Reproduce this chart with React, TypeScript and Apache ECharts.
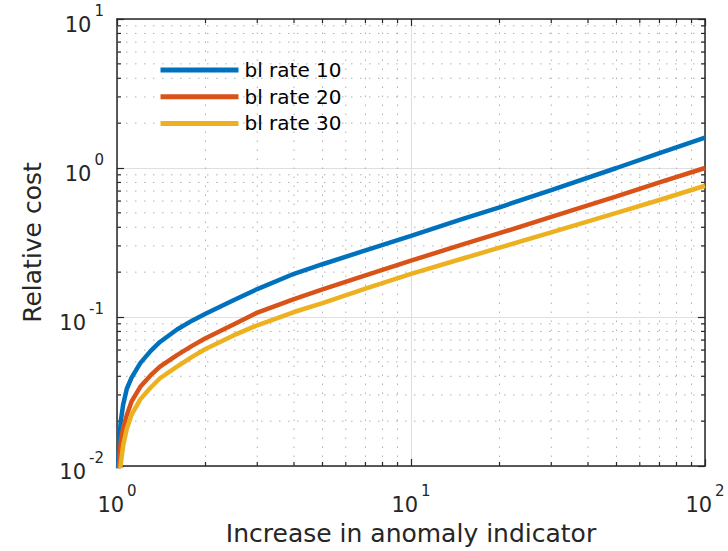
import React, { useEffect, useRef } from "react";
import * as echarts from "echarts";

// ---- data ----
const xValues = [1.005, 1.01, 1.02, 1.03, 1.05, 1.08, 1.12, 1.2, 1.3, 1.4, 1.6, 1.8, 2, 2.5, 3, 4, 5, 7, 10, 15, 20, 30, 50, 70, 100];
const blRate10 = [0.0075, 0.0105, 0.016, 0.02, 0.026, 0.033, 0.039, 0.049, 0.059, 0.068, 0.0825, 0.0945, 0.105, 0.13, 0.154, 0.195, 0.226, 0.28, 0.35, 0.455, 0.545, 0.71, 1.0, 1.26, 1.6];
const blRate20 = [0.005, 0.0078, 0.0115, 0.0145, 0.018, 0.022, 0.027, 0.034, 0.0405, 0.0465, 0.0555, 0.064, 0.072, 0.0895, 0.107, 0.132, 0.153, 0.19, 0.239, 0.307, 0.365, 0.47, 0.645, 0.8, 1.0];
const blRate30 = [0.004, 0.0063, 0.0085, 0.0104, 0.0138, 0.0178, 0.022, 0.028, 0.0335, 0.0388, 0.0465, 0.054, 0.061, 0.0755, 0.088, 0.108, 0.124, 0.155, 0.195, 0.247, 0.292, 0.37, 0.5, 0.61, 0.76];
const seriesNames = ["bl rate 10", "bl rate 20", "bl rate 30"];
const seriesColors = ["#0072BD", "#D95319", "#EDB120"];
const xMinorTicks = [2, 3, 4, 5, 6, 7, 8, 9, 20, 30, 40, 50, 60, 70, 80, 90];
const yMinorTicks = [0.02, 0.03, 0.04, 0.05, 0.06, 0.07, 0.08, 0.09, 0.2, 0.3, 0.4, 0.5, 0.6, 0.7, 0.8, 0.9, 2, 3, 4, 5, 6, 7, 8, 9];
const X_MIN = 1;
const X_MAX = 100;
const Y_MIN = 0.01;
const Y_MAX = 10;
const xAxisTitle = "Increase in anomaly indicator";
const yAxisTitle = "Relative cost";

const FONT = "DejaVu Sans";
const AXIS_COLOR = "#262626";
const MAJOR_GRID = "#dfdfdf";
const MINOR_GRID = "#b0b0b0";

const powLabel = (v: number) => {
  const e = Math.round(Math.log10(v));
  return `{b|10}{s|${e}}`;
};
const richLabel = {
  b: { fontSize: 21, fontFamily: FONT, color: AXIS_COLOR, lineHeight: 32, verticalAlign: "bottom" },
  s: { fontSize: 15, fontFamily: FONT, color: AXIS_COLOR, verticalAlign: "top", padding: [0, 0, 0, 3] },
};

export default function App() {
  const ref = useRef<HTMLDivElement>(null);
  useEffect(() => {
    if (!ref.current) return;
    const chart = echarts.init(ref.current, null, { renderer: "svg" });
    const lineData = [blRate10, blRate20, blRate30].map((ys) => xValues.map((x, i) => [x, ys[i]]));

    const axisCommon = {
      type: "log",
      logBase: 10,
      axisLine: { show: true, onZero: false, lineStyle: { color: AXIS_COLOR, width: 1.5 } },
      axisTick: { show: true, inside: true, length: 7, lineStyle: { color: AXIS_COLOR, width: 1.2 } },
      minorTick: { show: false },
    };

    const option: any = {
      animation: false,
      backgroundColor: "#ffffff",
      grid: { left: 117, right: 23, top: 19, bottom: 83, containLabel: false },
      legend: {
        data: seriesNames,
        orient: "vertical",
        left: 158,
        top: 60,
        padding: 0,
        itemWidth: 78,
        itemHeight: 14,
        itemGap: 6.7,
        lineStyle: { width: 5 },
        itemStyle: { opacity: 0 },
        textStyle: { fontSize: 20, fontFamily: FONT, color: "#000", padding: [0, 0, 0, 1] },
        backgroundColor: "transparent",
      },
      xAxis: [
        {
          ...axisCommon,
          min: X_MIN,
          max: X_MAX,
          position: "bottom",
          axisLabel: { formatter: powLabel, rich: richLabel, margin: 17 },
          splitLine: { show: true, lineStyle: { color: MAJOR_GRID, width: 1 } },
          name: xAxisTitle,
          nameLocation: "middle",
          nameGap: 55,
          nameTextStyle: { fontSize: 25, fontFamily: FONT, color: AXIS_COLOR },
        },
        {
          ...axisCommon,
          min: X_MIN,
          max: X_MAX,
          position: "top",
          axisLabel: { show: false },
          splitLine: { show: false },
        },
      ],
      yAxis: [
        {
          ...axisCommon,
          min: Y_MIN,
          max: Y_MAX,
          position: "left",
          axisLabel: { formatter: powLabel, rich: richLabel, margin: 13 },
          splitLine: { show: true, lineStyle: { color: MAJOR_GRID, width: 1 } },
          name: yAxisTitle,
          nameLocation: "middle",
          nameGap: 72,
          nameTextStyle: { fontSize: 25, fontFamily: FONT, color: AXIS_COLOR },
        },
        {
          ...axisCommon,
          min: Y_MIN,
          max: Y_MAX,
          position: "right",
          axisLabel: { show: false },
          splitLine: { show: false },
        },
      ],
      series: [
        {
          type: "custom",
          name: "minorGrid",
          silent: true,
          z: 1,
          xAxisIndex: 0,
          yAxisIndex: 0,
          encode: { x: 0, y: 1 },
          data: [
            ...xMinorTicks.map((v) => [v, 1, 0]),
            ...yMinorTicks.map((v) => [1, v, 1]),
          ],
          renderItem: (params: any, api: any) => {
            const kind = api.value(2);
            const dash = { stroke: MINOR_GRID, lineWidth: 1, lineDash: [1.5, 7.5] };
            const tick = { stroke: AXIS_COLOR, lineWidth: 1.2 };
            if (kind === 0) {
              const v = api.value(0);
              const b = api.coord([v, Y_MIN]);
              const t = api.coord([v, Y_MAX]);
              return {
                type: "group",
                children: [
                  { type: "line", shape: { x1: b[0], y1: b[1], x2: t[0], y2: t[1] }, style: dash },
                  { type: "line", shape: { x1: b[0], y1: b[1], x2: b[0], y2: b[1] - 4 }, style: tick },
                  { type: "line", shape: { x1: t[0], y1: t[1], x2: t[0], y2: t[1] + 4 }, style: tick },
                ],
              };
            }
            const v = api.value(1);
            const l = api.coord([X_MIN, v]);
            const r = api.coord([X_MAX, v]);
            return {
              type: "group",
              children: [
                { type: "line", shape: { x1: l[0], y1: l[1], x2: r[0], y2: r[1] }, style: dash },
                { type: "line", shape: { x1: l[0], y1: l[1], x2: l[0] + 4, y2: l[1] }, style: tick },
                { type: "line", shape: { x1: r[0], y1: r[1], x2: r[0] - 4, y2: r[1] }, style: tick },
              ],
            };
          },
        },
        ...seriesNames.map((name, i) => ({
          type: "line",
          name,
          data: lineData[i],
          xAxisIndex: 0,
          yAxisIndex: 0,
          showSymbol: false,
          symbol: "none",
          smooth: false,
          clip: true,
          z: 3,
          lineStyle: { color: seriesColors[i], width: 4.5 },
          itemStyle: { color: seriesColors[i] },
        })),
      ],
    };
    chart.setOption(option);
    return () => chart.dispose();
  }, []);

  return (
    <div
      ref={ref}
      style={{ position: "absolute", left: 0, top: 0, width: 728, height: 551, background: "#fff" }}
    />
  );
}
